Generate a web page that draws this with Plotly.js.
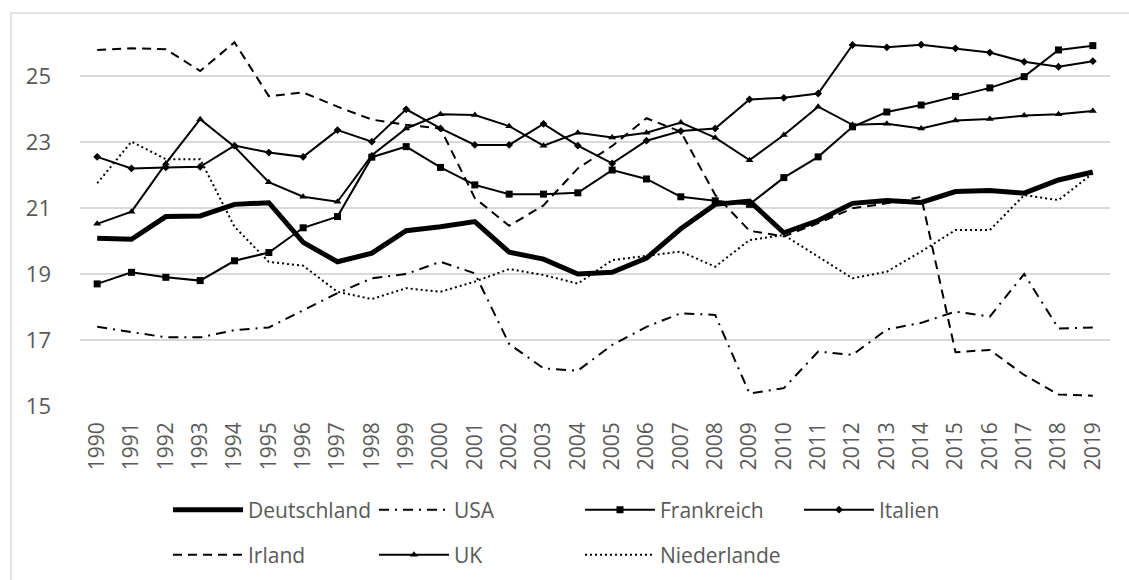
<!DOCTYPE html>
<html>
<head>
<meta charset="utf-8">
<script src="https://cdn.plot.ly/plotly-3.0.1.min.js"></script>
<style>html,body{margin:0;padding:0;background:#fff;}#chart{width:1129px;height:580px;}</style>
</head>
<body>
<div id="chart"></div>
<script>
const years = ["1990","1991","1992","1993","1994","1995","1996","1997","1998","1999","2000","2001","2002","2003","2004","2005","2006","2007","2008","2009","2010","2011","2012","2013","2014","2015","2016","2017","2018","2019"];
const deutschland = [20.08,20.05,20.74,20.76,21.11,21.16,19.96,19.37,19.63,20.31,20.43,20.59,19.66,19.45,19.00,19.05,19.48,20.37,21.11,21.21,20.25,20.62,21.14,21.23,21.17,21.50,21.53,21.45,21.85,22.09];
const usa = [17.40,17.25,17.08,17.08,17.30,17.38,17.91,18.42,18.87,19.00,19.37,19.02,16.88,16.14,16.07,16.85,17.40,17.81,17.76,15.38,15.54,16.65,16.55,17.32,17.52,17.86,17.71,19.00,17.35,17.38];
const frankreich = [18.70,19.05,18.90,18.80,19.40,19.65,20.40,20.74,22.54,22.86,22.23,21.70,21.42,21.42,21.46,22.15,21.88,21.34,21.22,21.11,21.92,22.55,23.46,23.91,24.12,24.38,24.64,24.98,25.79,25.92];
const italien = [22.55,22.20,22.23,22.25,22.89,22.68,22.55,23.36,23.01,23.99,23.41,22.91,22.91,23.55,22.89,22.35,23.04,23.33,23.41,24.29,24.34,24.47,25.94,25.87,25.95,25.84,25.71,25.43,25.28,25.45];
const irland = [25.79,25.84,25.81,25.15,26.02,24.39,24.50,24.07,23.68,23.52,23.41,21.30,20.46,21.08,22.20,22.88,23.72,23.31,21.40,20.31,20.14,20.54,20.99,21.14,21.34,16.63,16.70,15.94,15.35,15.31];
const uk = [20.52,20.89,22.35,23.69,22.86,21.78,21.34,21.19,22.60,23.41,23.84,23.82,23.48,22.89,23.28,23.14,23.28,23.59,23.13,22.45,23.21,24.07,23.52,23.55,23.41,23.65,23.70,23.80,23.84,23.94];
const niederlande = [21.75,23.01,22.48,22.48,20.43,19.37,19.25,18.46,18.24,18.57,18.46,18.77,19.15,18.97,18.71,19.42,19.55,19.68,19.22,20.03,20.18,19.52,18.87,19.07,19.68,20.33,20.33,21.39,21.24,22.05];
const yTicks = [15,17,19,21,23,25];

const FONT = "'Open Sans', 'Liberation Sans', Arial, sans-serif";
const TXT = '#595959';

function tr(name, y, opts, legend) {
  return Object.assign({
    type: 'scatter', x: years, y: y, name: name, legend: legend,
    mode: 'lines', line: {color: '#000', width: 2}, hoverinfo: 'skip'
  }, opts);
}

const data = [
  tr('Deutschland', deutschland, {line: {color: '#000', width: 5}}, 'legend'),
  tr('USA', usa, {line: {color: '#000', width: 2, dash: '10px,6px,2px,6px'}}, 'legend'),
  tr('Frankreich', frankreich, {mode: 'lines+markers', marker: {symbol: 'square', size: 7, color: '#000'}}, 'legend'),
  tr('Italien', italien, {mode: 'lines+markers', marker: {symbol: 'diamond', size: 6, color: '#000'}}, 'legend3'),
  tr('Irland', irland, {line: {color: '#000', width: 2, dash: '9px,6px'}}, 'legend2'),
  tr('UK', uk, {mode: 'lines+markers', marker: {symbol: 'triangle-up', size: 7, color: '#000'}}, 'legend2'),
  tr('Niederlande', niederlande, {line: {color: '#000', width: 2, dash: '2px,3px'}}, 'legend2')
];

const legendBase = {
  orientation: 'h', xanchor: 'left', yanchor: 'middle',
  xref: 'container', yref: 'container',
  x: 168 / 1129, itemwidth: 70, entrywidth: 121, entrywidthmode: 'pixels',
  font: {family: FONT, size: 21, color: TXT}, bgcolor: 'rgba(0,0,0,0)',
  traceorder: 'normal', itemclick: false, itemdoubleclick: false
};

const layout = {
  width: 1129, height: 580,
  margin: {l: 80, r: 19, t: 30, b: 174, pad: 0, autoexpand: false},
  paper_bgcolor: '#fff', plot_bgcolor: '#fff',
  font: {family: FONT, size: 21, color: TXT},
  showlegend: true,
  xaxis: {
    type: 'category', range: [-0.5, 29.5], autorange: false,
    showgrid: false, zeroline: false, showline: false, automargin: false,
    ticks: '', tickangle: -90, tickfont: {family: FONT, size: 21, color: TXT},
    ticklabelstandoff: 11, fixedrange: true
  },
  yaxis: {
    range: [15, 26.394], autorange: false, tickvals: yTicks, ticktext: yTicks.map(String), automargin: false,
    showgrid: true, gridcolor: '#d9d9d9', gridwidth: 1.3, zeroline: false, showline: false,
    ticks: '', tickfont: {family: FONT, size: 22, color: TXT}, ticklabelstandoff: 28, fixedrange: true
  },
  legend: Object.assign({}, legendBase, {y: 70 / 580}),
  legend3: Object.assign({}, legendBase, {y: 70 / 580, x: 799 / 1129}),
  legend2: Object.assign({}, legendBase, {y: 25 / 580}),
  shapes: [{
    type: 'rect', xref: 'paper', yref: 'paper',
    x0: -0.067, x1: 1.5, y0: -2, y1: 1.0452,
    line: {color: '#d9d9d9', width: 1.5}, fillcolor: 'rgba(0,0,0,0)', layer: 'below'
  }]
};

Plotly.newPlot('chart', data, layout, {displayModeBar: false, staticPlot: true});
</script>
</body>
</html>
